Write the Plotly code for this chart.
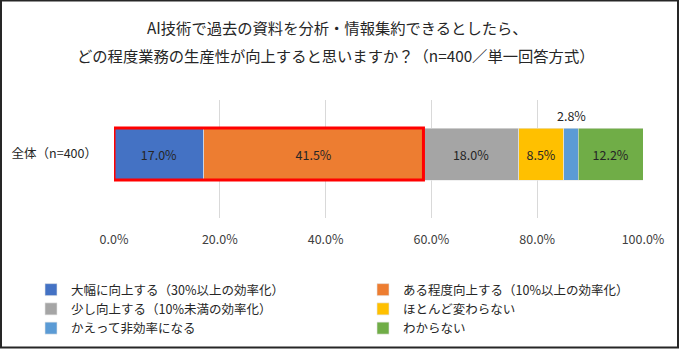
import plotly.graph_objects as go

# Survey result: expected productivity gain from AI summarisation (n=400)
category = ["全体（n=400）"]
answers = [
    "大幅に向上する（30%以上の効率化）",
    "ある程度向上する（10%以上の効率化）",
    "少し向上する（10%未満の効率化）",
    "ほとんど変わらない",
    "かえって非効率になる",
    "わからない",
]
shares = [17.0, 41.5, 18.0, 8.5, 2.8, 12.2]
colors = ["#4472C4", "#ED7D31", "#A5A5A5", "#FFC000", "#5B9BD5", "#70AD47"]
tick_vals = [0, 20, 40, 60, 80, 100]
tick_text = ["0.0%", "20.0%", "40.0%", "60.0%", "80.0%", "100.0%"]

W, H = 680, 349
ML, MR, MT, MB = 114, 37, 100, 131
PW, PH = W - ML - MR, H - MT - MB

FONT = "Noto Sans CJK JP"
BAR_W = 0.44
Y_RANGE = [-0.542, 0.458]


def px_x(px):
    return (px - ML) / PW


def px_y(py):
    return (H - MB - py) / PH


fig = go.Figure()
for i, (name, val, col) in enumerate(zip(answers, shares, colors)):
    small = val < 5
    fig.add_trace(go.Bar(
        x=[val], y=category, name=name, orientation="h",
        width=BAR_W,
        marker=dict(color=col, line=dict(color="#E6E6E6", width=0.6)),
        text=[f"{val:.1f}%"],
        textposition="none" if small else "inside",
        insidetextanchor="middle",
        textfont=dict(family=FONT, size=12.5, color="#262626"),
        hoverinfo="skip",
        # even entries in the left legend column, odd ones in the right
        legend="legend" if i % 2 == 0 else "legend2",
    ))

# narrow segment gets its label above the bar
cum = 0.0
for val in shares:
    if val < 5:
        fig.add_annotation(
            x=cum + val / 2, y=BAR_W / 2, xref="x", yref="y",
            text=f"{val:.1f}%", showarrow=False, yanchor="bottom", yshift=1,
            font=dict(family=FONT, size=12.5, color="#262626"),
        )
    cum += val

# red frame around the two "improves" answers
fig.add_shape(
    type="rect", xref="x", yref="y",
    x0=0, x1=shares[0] + shares[1], y0=-BAR_W / 2, y1=BAR_W / 2,
    line=dict(color="#FF0000", width=3), layer="above",
)

# outer border of the figure
fig.add_shape(
    type="rect", xref="paper", yref="paper",
    x0=px_x(1), x1=px_x(678), y0=px_y(347.5), y1=px_y(0.5),
    line=dict(color="#262626", width=2),
)

# two-line title
TITLE_FONT = dict(family=FONT, size=15.3, color="#262626")
fig.add_annotation(
    x=px_x(337), y=px_y(27), xref="paper", yref="paper",
    text="AI技術で過去の資料を分析・情報集約できるとしたら、",
    showarrow=False, xanchor="center", yanchor="middle", font=TITLE_FONT,
)
fig.add_annotation(
    x=px_x(336), y=px_y(55), xref="paper", yref="paper",
    text="どの程度業務の生産性が向上すると思いますか？（n=400／単一回答方式）",
    showarrow=False, xanchor="center", yanchor="middle", font=TITLE_FONT,
)

LEG_FONT = dict(family=FONT, size=12.5, color="#262626")
leg_common = dict(
    orientation="v", xref="container", yref="container",
    xanchor="left", yanchor="top", font=LEG_FONT,
    traceorder="normal", itemwidth=30, bgcolor="rgba(0,0,0,0)",
    tracegroupgap=0,
)

fig.update_layout(
    width=W, height=H,
    margin=dict(l=ML, r=MR, t=MT, b=MB, autoexpand=False),
    barmode="stack",
    plot_bgcolor="white", paper_bgcolor="white",
    font=dict(family=FONT, size=12, color="#262626"),
    showlegend=True,
    legend=dict(x=31 / W, y=1 - 275 / H, **leg_common),
    legend2=dict(x=363 / W, y=1 - 275 / H, **leg_common),
    xaxis=dict(
        range=[0, 100], tickvals=tick_vals, ticktext=tick_text,
        showgrid=True, gridcolor="#D9D9D9", gridwidth=1,
        zeroline=False, showline=False,
        ticklabelstandoff=12,
        tickfont=dict(family=FONT, size=12.5, color="#404040"),
        fixedrange=True,
    ),
    yaxis=dict(
        range=Y_RANGE, showgrid=False, zeroline=False, showline=False,
        ticklabelstandoff=16,
        tickfont=dict(family=FONT, size=12.5, color="#262626"),
        fixedrange=True,
    ),
)

fig.write_html("out.html")
